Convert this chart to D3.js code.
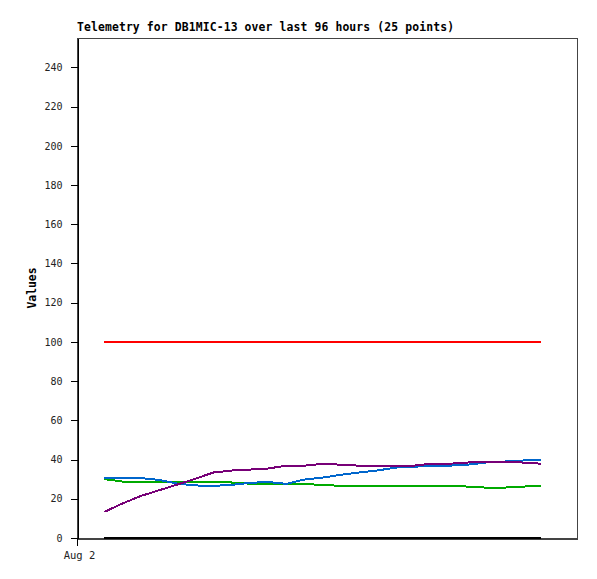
<!DOCTYPE html>
<html>
<head>
<meta charset="utf-8">
<script src="https://cdn.jsdelivr.net/npm/d3@7"></script>
<style>
  body { margin: 0; background: #fff; }
  svg { display: block; }
</style>
</head>
<body>
<svg id="chart" width="597" height="579"></svg>
<script>
const title = "Telemetry for DB1MIC-13 over last 96 hours (25 points)";
const yLabel = "Values";
const yTicks = [0, 20, 40, 60, 80, 100, 120, 140, 160, 180, 200, 220, 240];
const xTickLabels = ["Aug 2"];

// 25 points, every 4 hours, starting Aug 2 06:00
const startTime = new Date(2024, 7, 2, 6, 0);
const times = d3.range(25).map(i => new Date(startTime.getTime() + i * 4 * 3600 * 1000));

const redValues = [100,100,100,100,100,100,100,100,100,100,100,100,100,100,100,100,100,100,100,100,100,100,100,100,100];
const blackValues = [0,0,0,0,0,0,0,0,0,0,0,0,0,0,0,0,0,0,0,0,0,0,0,0,0];
const greenValues = [30,28.8,28.8,28.8,28.8,28.8,28.8,28.3,27.7,27.7,27.7,27.7,26.9,26.7,26.7,26.7,26.7,26.7,26.7,26.7,26.2,25.7,25.7,26.2,26.7];
const blueValues = [30.8,30.8,30.6,29.6,27.8,26.8,26.6,27.1,28.1,28.6,27.6,29.8,30.8,32.2,33.4,34.4,35.9,36.3,36.9,36.9,37.4,38.5,39,39.5,40];
const purpleValues = [13.3,17.6,21.4,24.3,27.2,30.2,33.4,34.4,34.9,35.4,36.9,36.9,37.8,37.4,36.9,36.9,36.9,36.9,37.9,37.9,38.5,39,39,38.5,37.9];

const series = [
  { values: redValues, color: "#ff0000" },
  { values: blackValues, color: "#000000" },
  { values: greenValues, color: "#00aa00" },
  { values: blueValues, color: "#0066cc" },
  { values: purpleValues, color: "#770077" }
];

const mLeft = 77, mRight = 577, mTop = 38, mBottom = 538;
const svg = d3.select("#chart");

const x = d3.scaleTime()
  .domain([new Date(2024, 7, 2, 0, 0), new Date(2024, 7, 6, 14, 0)])
  .range([mLeft, mRight]);
const y = d3.scaleLinear().domain([0, 255]).range([mBottom, mTop]);

// frame
svg.append("rect")
  .attr("x", mLeft + 0.5).attr("y", mTop + 0.5)
  .attr("width", mRight - mLeft).attr("height", mBottom - mTop)
  .attr("fill", "none").attr("stroke", "#444").attr("stroke-width", 1)
  .attr("shape-rendering", "crispEdges");

// y axis
const yAxis = d3.axisLeft(y).tickValues(yTicks).tickSize(7).tickSizeOuter(0).tickPadding(8);
const gy = svg.append("g").attr("transform", `translate(${mLeft + 0.5},0)`).call(yAxis);
gy.select(".domain").attr("stroke", "#000").attr("shape-rendering", "crispEdges");
gy.selectAll(".tick line").attr("stroke", "#000").attr("shape-rendering", "crispEdges");
gy.selectAll(".tick text")
  .attr("font-family", "'DejaVu Sans Mono', monospace")
  .attr("font-size", "10px").attr("fill", "#222");

// x axis
const xAxis = d3.axisBottom(x)
  .tickValues([x.domain()[0]])
  .tickFormat((d, i) => xTickLabels[i])
  .tickSize(7).tickSizeOuter(0).tickPadding(6);
const gx = svg.append("g").attr("transform", `translate(0,${mBottom + 0.5})`).call(xAxis);
gx.select(".domain").attr("stroke", "#444").attr("shape-rendering", "crispEdges");
gx.selectAll(".tick line").attr("stroke", "#000").attr("shape-rendering", "crispEdges");
gx.selectAll(".tick text")
  .attr("font-family", "'DejaVu Sans Mono', monospace")
  .attr("font-size", "10.5px").attr("fill", "#222")
  .attr("dx", "2px");

// lines
const line = d3.line()
  .x((d, i) => x(times[i]))
  .y(d => y(d));

series.forEach(s => {
  svg.append("path")
    .datum(s.values)
    .attr("d", line)
    .attr("fill", "none")
    .attr("stroke", s.color)
    .attr("stroke-width", 2)
    .attr("shape-rendering", "crispEdges");
});

// title
svg.append("text")
  .attr("x", mLeft).attr("y", 31)
  .attr("font-family", "'DejaVu Sans Mono', monospace")
  .attr("font-weight", "bold").attr("font-size", "11.4px")
  .attr("textLength", 377).attr("lengthAdjust", "spacing")
  .attr("fill", "#000")
  .text(title);

// y label
svg.append("text")
  .attr("transform", `translate(36,${(mTop + mBottom) / 2}) rotate(-90)`)
  .attr("text-anchor", "middle")
  .attr("font-family", "'DejaVu Sans Mono', monospace")
  .attr("font-weight", "bold").attr("font-size", "11.4px")
  .attr("fill", "#000")
  .text(yLabel);
</script>
</body>
</html>
